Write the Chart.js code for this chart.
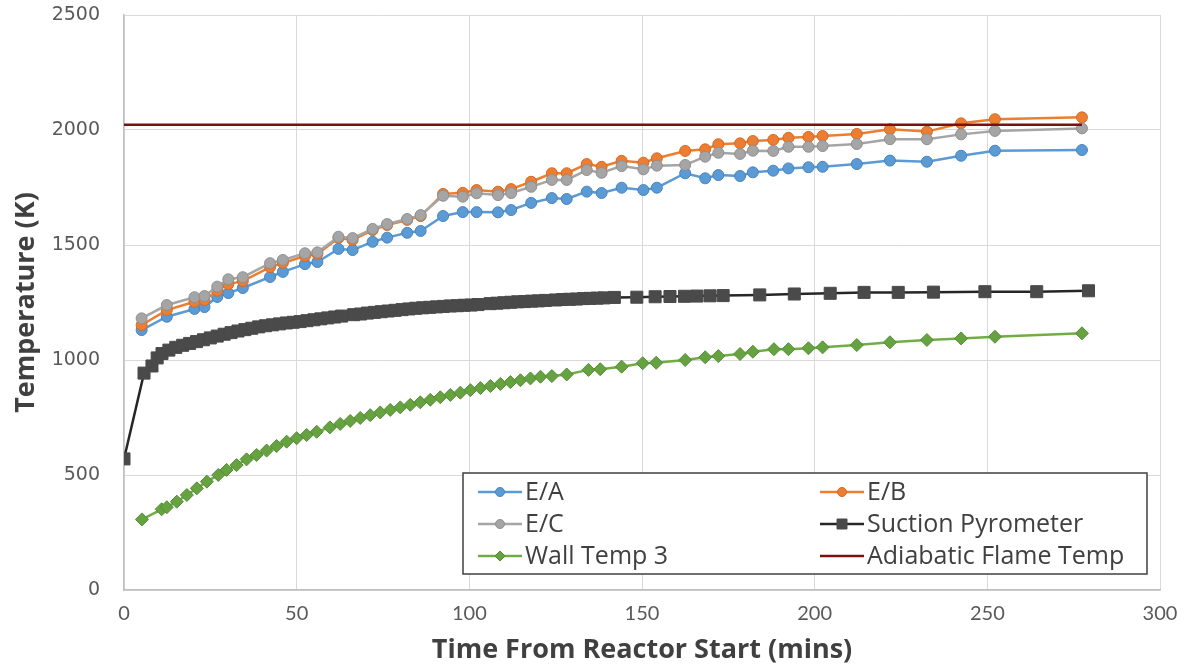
<!DOCTYPE html>
<html>
<head>
<meta charset="utf-8">
<script src="https://cdn.jsdelivr.net/npm/chart.js@4/dist/chart.umd.min.js"></script>
<style>
  body { margin: 0; background: #fff; }
  #wrap { width: 1188px; height: 667px; }
</style>
</head>
<body>
<div id="wrap"><canvas id="tempChart" width="1188" height="667"></canvas></div>
<script>
// thermocouple sampling times (mins) shared by E/A, E/B, E/C
const eTimes = [5.1, 12.4, 20.4, 23.3, 27.0, 30.2, 34.4, 42.3, 46.0, 52.4, 56.0, 62.1, 66.2, 72.0, 76.2,
  82.0, 85.9, 92.4, 98.1, 102.1, 108.3, 112.1, 117.9, 123.9, 128.2, 134.0, 138.3, 144.1, 150.4, 154.3,
  162.5, 168.3, 172.1, 178.4, 182.1, 188.0, 192.4, 198.2, 202.3, 212.2, 221.8, 232.5, 242.4, 252.2, 277.4];
const eaTemps = [1130, 1188, 1222, 1230, 1274, 1291, 1313, 1361, 1383, 1417, 1426, 1483, 1478, 1514, 1532,
  1553, 1561, 1626, 1643, 1643, 1642, 1652, 1683, 1704, 1700, 1732, 1726, 1749, 1739, 1749,
  1812, 1790, 1804, 1800, 1816, 1823, 1833, 1838, 1840, 1852, 1867, 1862, 1888, 1910, 1913];
const ebTemps = [1152, 1217, 1253, 1261, 1301, 1330, 1343, 1404, 1422, 1452, 1461, 1530, 1522, 1565, 1587,
  1609, 1626, 1722, 1727, 1739, 1732, 1743, 1775, 1812, 1812, 1852, 1840, 1866, 1858, 1877,
  1909, 1916, 1938, 1942, 1952, 1957, 1966, 1970, 1974, 1983, 2003, 1993, 2029, 2047, 2055];
const ecTemps = [1181, 1239, 1273, 1278, 1319, 1351, 1360, 1421, 1435, 1464, 1468, 1536, 1530, 1570, 1591,
  1613, 1630, 1714, 1710, 1725, 1717, 1726, 1753, 1783, 1783, 1826, 1814, 1843, 1829, 1845,
  1848, 1884, 1901, 1896, 1910, 1909, 1927, 1927, 1930, 1939, 1960, 1960, 1981, 1996, 2007];

const suctionTimes = [0, 5.8, 8.1, 9.6, 11, 13, 15, 17, 19, 21, 23, 25, 27, 29, 31, 33, 35, 37, 39, 41, 43, 45,
  47, 49, 51, 53, 55, 57, 59, 61, 63, 66.5, 68.5, 70.5, 72.5, 74.5, 76.5, 78.5, 80.5, 82.5, 84.5, 86.5,
  88.5, 90.5, 92.5, 94.5, 96.5, 98.5, 100.5, 102.5, 106, 108, 110, 112, 114, 116, 118, 120, 122, 125,
  127, 129, 131, 133, 135, 137, 139, 142, 148.5, 153.8, 158.1, 162.3, 165.9, 169.7, 173.5, 184.1,
  194.1, 204.5, 214.3, 224.2, 234.4, 249.3, 264.3, 279.3];
const suctionTemps = [570, 943, 974, 1009, 1028, 1043, 1055, 1064, 1072, 1080, 1088, 1096, 1104, 1112, 1119,
  1126, 1132, 1138, 1144, 1149, 1153, 1157, 1161, 1164, 1167, 1171, 1175, 1179, 1183, 1187, 1191,
  1197, 1200, 1204, 1207, 1210, 1213, 1216, 1219, 1222, 1225, 1227, 1229, 1231, 1233, 1235, 1236,
  1238, 1239, 1241, 1245, 1247, 1249, 1251, 1253, 1254, 1256, 1257, 1259, 1261, 1263, 1264, 1265,
  1267, 1268, 1269, 1270, 1272, 1273, 1275, 1276, 1277, 1278, 1279, 1280, 1283, 1287, 1290, 1294,
  1294, 1295, 1297, 1297, 1301];

const wallTimes = [5.2, 10.9, 12.4, 15.3, 18.2, 21.1, 24.0, 27.3, 29.7, 32.6, 35.5, 38.4, 41.3, 44.2, 47.1,
  50.0, 52.9, 55.8, 59.6, 62.6, 65.5, 68.4, 71.3, 74.2, 77.1, 80.0, 82.9, 85.8, 88.7, 91.6, 94.5, 97.4,
  100.3, 103.2, 106.1, 109.0, 111.9, 114.8, 117.7, 120.6, 123.9, 128.2, 134.5, 137.9, 144.1, 150.2,
  154.1, 162.5, 168.3, 172.1, 178.4, 182.1, 188.2, 192.4, 198.2, 202.3, 212.2, 221.8, 232.5, 242.4,
  252.2, 277.4];
const wallTemps = [307, 351, 360, 384, 413, 442, 471, 500, 522, 543, 568, 587, 606, 626, 645,
  660, 674, 688, 707, 722, 735, 748, 760, 772, 783, 794, 805, 816, 827, 838, 848, 858,
  869, 878, 887, 896, 904, 912, 920, 927, 930, 937, 957, 960, 971, 986,
  988, 1000, 1012, 1017, 1026, 1036, 1047, 1047, 1051, 1055, 1065, 1077, 1087, 1094,
  1101, 1116];

const flameTimes = [0, 277.4];
const flameTemps = [2023, 2023];

const xTicks = [0, 50, 100, 150, 200, 250, 300];
const yTicks = [0, 500, 1000, 1500, 2000, 2500];

function pts(xs, ys) {
  return xs.map((x, i) => ({ x: x, y: ys[i] }));
}

function series(label, xs, ys, line, fill, edge, style, radius, order) {
  return {
    label: label,
    data: pts(xs, ys),
    borderColor: line,
    backgroundColor: fill,
    borderWidth: 2.5,
    pointStyle: style,
    pointRadius: radius,
    pointBackgroundColor: fill,
    pointBorderColor: edge,
    pointBorderWidth: 1,
    tension: 0,
    order: order
  };
}

const datasets = [
  series('E/A', eTimes, eaTemps, '#5b9bd5', '#5b9bd5', '#4a84bb', 'circle', 5.5, 6),
  series('E/B', eTimes, ebTemps, '#ed7d31', '#ed7d31', '#d46a22', 'circle', 5.5, 5),
  series('E/C', eTimes, ecTemps, '#a5a5a5', '#a5a5a5', '#8f8f8f', 'circle', 5.5, 4),
  series('Suction Pyrometer', suctionTimes, suctionTemps, '#262626', '#4a4a4a', '#4a4a4a', 'rect', 8.5, 3),
  series('Wall Temp 3', wallTimes, wallTemps, '#70ad47', '#66a340', '#548c35', 'rectRot', 6.5, 2),
  series('Adiabatic Flame Temp', flameTimes, flameTemps, '#7a1010', '#7a1010', '#7a1010', 'line', 0, 1)
];

// boxed legend inside the plot, two columns
const boxLegend = {
  id: 'boxLegend',
  afterDraw(chart) {
    const ctx = chart.ctx;
    const bx = 463, by = 473, bw = 684, bh = 101;
    ctx.save();
    ctx.fillStyle = '#ffffff';
    ctx.fillRect(bx, by, bw, bh);
    ctx.strokeStyle = '#404040';
    ctx.lineWidth = 1.5;
    ctx.strokeRect(bx, by, bw, bh);
    const cols = [478, 820];
    const rows = [492, 524, 556];
    ctx.font = '25px "Open Sans"';
    ctx.textBaseline = 'middle';
    chart.data.datasets.forEach((ds, i) => {
      const x0 = cols[i % 2];
      const y = rows[Math.floor(i / 2)];
      ctx.strokeStyle = ds.borderColor;
      ctx.lineWidth = 2.5;
      ctx.beginPath();
      ctx.moveTo(x0, y);
      ctx.lineTo(x0 + 44, y);
      ctx.stroke();
      const cx = x0 + 22;
      ctx.fillStyle = ds.pointBackgroundColor;
      ctx.strokeStyle = ds.pointBorderColor;
      ctx.lineWidth = 1;
      ctx.beginPath();
      if (ds.pointStyle === 'circle') {
        ctx.arc(cx, y, 4.5, 0, Math.PI * 2);
      } else if (ds.pointStyle === 'rect') {
        ctx.rect(cx - 5, y - 5, 10, 10);
      } else if (ds.pointStyle === 'rectRot') {
        ctx.moveTo(cx, y - 5); ctx.lineTo(cx + 5, y); ctx.lineTo(cx, y + 5); ctx.lineTo(cx - 5, y); ctx.closePath();
      }
      if (ds.pointStyle !== 'line') { ctx.fill(); ctx.stroke(); }
      ctx.fillStyle = '#404040';
      ctx.fillText(ds.label, x0 + 47, y + 1);
    });
    ctx.restore();
  }
};

new Chart(document.getElementById('tempChart'), {
  type: 'line',
  data: { datasets: datasets },
  plugins: [boxLegend],
  options: {
    responsive: false,
    animation: false,
    layout: { padding: { top: 15, right: 28, left: 0, bottom: 0 } },
    plugins: { legend: { display: false }, tooltip: { enabled: false } },
    scales: {
      x: {
        type: 'linear',
        min: 0, max: 300,
        afterBuildTicks: (s) => { s.ticks = xTicks.map(v => ({ value: v })); },
        afterFit: (s) => { s.height = 77; s.paddingLeft = 0; s.paddingRight = 0; },
        grid: { color: '#d9d9d9', drawTicks: false },
        border: { color: '#bfbfbf', width: 1.5 },
        ticks: { padding: 12, color: '#595959', font: { family: 'Lato', size: 20 }, callback: (v) => String(v) },
        title: {
          display: true,
          text: 'Time From Reactor Start (mins)',
          color: '#404040',
          font: { family: 'Open Sans', size: 27, weight: 'bold' },
          padding: { top: 0, bottom: 0 }
        }
      },
      y: {
        min: 0, max: 2500,
        afterBuildTicks: (s) => { s.ticks = yTicks.map(v => ({ value: v })); },
        afterFit: (s) => { s.width = 124; s.paddingTop = 0; s.paddingBottom = 0; },
        grid: { color: '#d9d9d9', drawTicks: false },
        border: { color: '#bfbfbf', width: 1.5 },
        ticks: { padding: 24, color: '#595959', font: { family: 'DejaVu Sans', size: 19 }, callback: (v) => String(v) },
        title: {
          display: true,
          text: 'Temperature (K)',
          color: '#404040',
          font: { family: 'Open Sans', size: 27, weight: 'bold' },
          padding: { top: 10, bottom: 0 }
        }
      }
    }
  }
});
</script>
</body>
</html>
